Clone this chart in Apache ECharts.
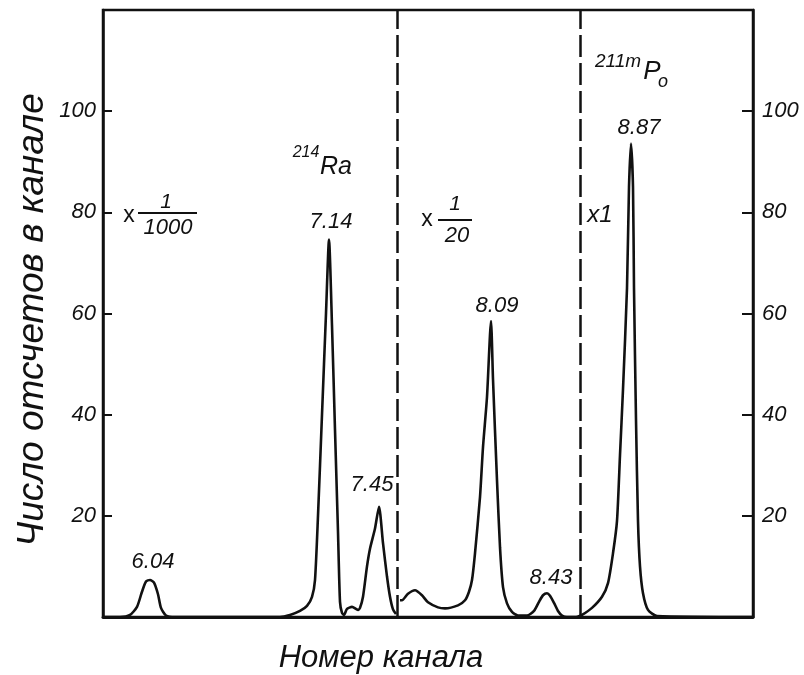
<!DOCTYPE html>
<html>
<head>
<meta charset="utf-8">
<script src="https://cdn.jsdelivr.net/npm/echarts@6/dist/echarts.min.js"></script>
<style>
html,body{margin:0;padding:0;background:#fff;}
#chart{width:804px;height:675px;}
</style>
</head>
<body>
<div id="chart"></div>
<script>
// ---- data (channel number, counts per channel) ----
// Segment 1: scale x 1/1000
var seg1Channels = [0, 17, 27, 34, 39, 43, 47, 51, 55, 58, 63, 72, 177, 187, 197, 204, 209, 212, 215, 219, 223, 226, 229, 232, 235, 237, 239, 241, 244, 249, 255, 257, 260, 264, 267, 272, 276, 280, 284, 287, 290, 293];
var seg1Counts   = [0, 0, 0.4, 2, 5, 7, 7.3, 6.8, 4.5, 1.8, 0.3, 0, 0, 0.4, 1.2, 2.2, 4, 7.3, 20, 40, 60, 74.6, 57.6, 37, 16.8, 3, 0.8, 0.4, 1.6, 2, 1.4, 1.8, 4, 10, 13.5, 17.5, 21.8, 14.6, 8, 4, 1.5, 0.6];
// Segment 2: scale x 1/20
var seg2Channels = [297, 299, 305, 312, 319, 325, 335, 342, 355, 362, 366, 369, 372, 377, 380, 384, 388, 390, 394, 397, 400, 404, 409, 415, 424, 431, 436, 440, 444, 447, 451, 455, 459, 464, 470, 474];
var seg2Counts   = [3.3, 3.3, 4.6, 5.3, 4.3, 2.9, 1.9, 1.7, 2.3, 3.3, 5, 7.3, 12.6, 23.7, 33.6, 43.5, 58.5, 47, 27, 13.8, 5.9, 2.7, 1, 0.3, 0.3, 1.2, 3, 4.3, 4.7, 4.2, 2.8, 1.2, 0.3, 0, 0, 0];
// Segment 3: scale x 1
var seg3Channels = [474, 479, 489, 499, 505, 510, 514, 517, 520, 524, 526, 528, 530, 531, 533, 535, 537, 540, 545, 554, 650];
var seg3Counts   = [0, 0.4, 1.8, 4, 6.7, 12.6, 19, 32, 45, 65, 85, 93.6, 85, 65, 39, 19, 10, 4.7, 1.4, 0.2, 0];
// section boundaries (dashed lines), channel numbers
var boundaries = [294, 477];
// peak energies (MeV) and where they sit
var peakLabels   = ['6.04', '7.14', '7.45', '8.09', '8.43', '8.87'];
var peakChannels = [47, 226, 276, 388, 444, 528];
var peakCounts   = [7.3, 74.6, 21.8, 58.5, 4.7, 93.6];
// axis
var yTicks = [20, 40, 60, 80, 100];
var yMax = 120;
var xMax = 650;

function zip(a, b) { return a.map(function (v, i) { return [v, b[i]]; }); }

var INK = '#111';
var FONT = '"Liberation Sans", Arial, sans-serif';
var labelOffsets = [[3, 0], [2, 0], [-7, -3], [6, 0], [4, 0], [8, 0]];
var labelDistances = [7, 7, 8, 4, 4, 5];

var chart = echarts.init(document.getElementById('chart'), null, {renderer: 'canvas'});

function yAxisDef(pos) {
  return {
    type: 'value', position: pos, min: 0, max: yMax, interval: 20,
    axisLine: {show: true, lineStyle: {color: INK, width: 2.5}},
    axisTick: {show: true, inside: true, length: pos === 'left' ? 9 : 11, lineStyle: {color: INK, width: 2}},
    axisLabel: {
      show: true, margin: pos === 'left' ? 7 : 9, color: INK, fontSize: 22, fontStyle: 'italic', fontFamily: FONT,
      formatter: function (v) { return yTicks.indexOf(v) >= 0 ? String(v) : ''; }
    },
    splitLine: {show: false}
  };
}

function lineSeries(ch, ct, extra) {
  var s = {
    type: 'line', data: zip(ch, ct), symbol: 'none', smooth: 0.22,
    lineStyle: {color: INK, width: 2.6}, silent: true, animation: false, z: 3
  };
  for (var k in extra) s[k] = extra[k];
  return s;
}

var mpData = peakLabels.map(function (lab, i) {
  return {
    name: lab, coord: [peakChannels[i], peakCounts[i]],
    label: {offset: labelOffsets[i], distance: labelDistances[i]}
  };
});

function txt(x, y, text, size, italic) {
  return {type: 'text', x: x, y: y, style: {text: text, fontSize: size, fontStyle: italic ? 'italic' : 'normal', fontFamily: FONT, fill: INK,
    align: 'center', verticalAlign: 'middle', textAlign: 'center', textVerticalAlign: 'middle'}};
}

var option = {
  backgroundColor: '#fff',
  animation: false,
  grid: {left: 103, right: 51, top: 10, bottom: 58, show: true, borderColor: INK, borderWidth: 2.5, backgroundColor: 'transparent'},
  xAxis: {
    type: 'value', min: 0, max: xMax,
    axisLine: {show: true, lineStyle: {color: INK, width: 2.8}},
    axisTick: {show: false}, axisLabel: {show: false}, splitLine: {show: false}
  },
  yAxis: [yAxisDef('left'), yAxisDef('right')],
  series: [
    lineSeries(seg1Channels, seg1Counts, {
      markLine: {
        silent: true, symbol: ['none', 'none'], label: {show: false},
        lineStyle: {color: INK, width: 2.5, type: [22, 6]},
        data: boundaries.map(function (b) { return {xAxis: b}; })
      },
      markPoint: {
        symbol: 'circle', symbolSize: 0, silent: true,
        label: {show: true, position: 'top', formatter: '{b}', color: INK, fontSize: 22, fontStyle: 'italic', fontFamily: FONT},
        data: mpData
      }
    }),
    lineSeries(seg2Channels, seg2Counts, {}),
    lineSeries(seg3Channels, seg3Counts, {})
  ],
  graphic: [
    {type: 'text', x: 33, y: 320, rotation: Math.PI / 2,
     style: {text: 'Число отсчетов в канале', fontSize: 37, fontStyle: 'italic', fontFamily: FONT, fill: INK,
             align: 'center', verticalAlign: 'middle', textAlign: 'center', textVerticalAlign: 'middle'}},
    txt(381, 658, 'Номер канала', 31, true),
    // x 1/1000
    txt(129, 216, 'x', 23, false),
    txt(166, 202, '1', 21, true),
    {type: 'line', shape: {x1: 138, y1: 213, x2: 197, y2: 213}, style: {stroke: INK, lineWidth: 2}},
    txt(168, 228, '1000', 22, true),
    // x 1/20
    txt(427, 220, 'x', 23, false),
    txt(455, 204, '1', 21, true),
    {type: 'line', shape: {x1: 438, y1: 220, x2: 472, y2: 220}, style: {stroke: INK, lineWidth: 2}},
    txt(457, 236, '20', 22, true),
    // x1
    txt(600, 215, 'x1', 24, true),
    // 214Ra
    txt(306, 153, '214', 16, true),
    txt(336, 167, 'Ra', 25, true),
    // 211m Po
    txt(618, 62, '211m', 19, true),
    txt(652, 72, 'P', 26, true),
    txt(663, 82, 'o', 18, true)
  ]
};
chart.setOption(option);
</script>
</body>
</html>
